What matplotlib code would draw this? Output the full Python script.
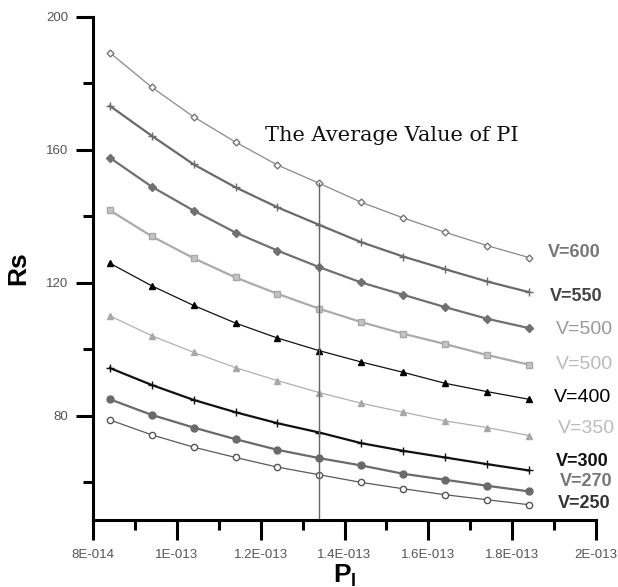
import matplotlib
matplotlib.use("Agg")
import matplotlib.pyplot as plt
from matplotlib.ticker import MultipleLocator, FuncFormatter

# power levels (x) shared by all curves
pl = [8.4e-14, 9.4e-14, 1.04e-13, 1.14e-13, 1.24e-13, 1.34e-13,
      1.44e-13, 1.54e-13, 1.64e-13, 1.74e-13, 1.84e-13]

rs_600 = [189.2, 178.8, 169.9, 162.3, 155.4, 149.9, 144.2, 139.5, 135.2, 131.2, 127.6]
rs_550 = [173.2, 164.2, 155.6, 148.7, 142.7, 137.4, 132.2, 127.9, 124.1, 120.4, 117.2]
rs_500a = [157.6, 148.9, 141.7, 135.1, 129.7, 124.7, 120.1, 116.4, 112.7, 109.2, 106.4]
rs_500b = [141.8, 134.0, 127.4, 121.6, 116.7, 112.2, 108.2, 104.7, 101.6, 98.3, 95.4]
rs_400 = [125.9, 119.1, 113.2, 107.9, 103.4, 99.6, 96.2, 93.1, 89.8, 87.3, 85.0]
rs_350 = [110.1, 104.1, 99.1, 94.5, 90.6, 87.0, 83.8, 81.1, 78.5, 76.5, 74.1]
rs_300 = [94.4, 89.3, 84.8, 81.1, 77.8, 75.0, 71.8, 69.5, 67.5, 65.5, 63.6]
rs_270 = [85.0, 80.3, 76.5, 73.0, 69.8, 67.3, 65.1, 62.6, 60.8, 59.0, 57.3]
rs_250 = [78.8, 74.3, 70.6, 67.5, 64.6, 62.3, 60.0, 58.1, 56.3, 54.8, 53.3]

labels = ["V=600", "V=550", "V=500", "V=500", "V=400", "V=350", "V=300", "V=270", "V=250"]
label_y = [129.2, 115.9, 105.9, 95.3, 85.6, 76.3, 66.3, 60.3, 53.8]
avg_pl = 1.34e-13

fig = plt.figure(figsize=(6.18, 5.87), dpi=100)
ax = fig.add_axes([0.1505, 0.1141, 0.8139, 0.8575])

# (data, line colour, lw, marker, face, edge, ms)
styles = [
    (rs_600, "#8a8a8a", 0.9, "D", "white", "#777777", 3.5),
    (rs_550, "#6a6a6a", 1.6, "+", "#6a6a6a", "#6a6a6a", 6),
    (rs_500a, "#707070", 1.6, "D", "#707070", "#707070", 4),
    (rs_500b, "#ababab", 1.6, "s", "#c4c4c4", "#a8a8a8", 4.5),
    (rs_400, "#111111", 0.9, "^", "#000000", "#000000", 4.5),
    (rs_350, "#b0b0b0", 0.9, "^", "#a8a8a8", "#a8a8a8", 4.5),
    (rs_300, "#111111", 1.6, "+", "#111111", "#111111", 6),
    (rs_270, "#6a6a6a", 1.6, "o", "#6a6a6a", "#6a6a6a", 5),
    (rs_250, "#5a5a5a", 0.9, "o", "white", "#555555", 4.5),
]
for data, col, lw, mk, fc, ec, ms in styles:
    ax.plot(pl, data, color=col, lw=lw, marker=mk, mfc=fc, mec=ec, ms=ms,
            mew=1.0)

label_style = [("#777777", "bold", 13), ("#444444", "bold", 13),
               ("#999999", "normal", 14), ("#bbbbbb", "normal", 14),
               ("#000000", "normal", 14), ("#bbbbbb", "normal", 14),
               ("#111111", "bold", 13), ("#777777", "bold", 13),
               ("#333333", "bold", 13)]
label_x = [1.885e-13, 1.89e-13, 1.905e-13, 1.905e-13, 1.90e-13,
           1.91e-13, 1.905e-13, 1.915e-13, 1.91e-13]
for txt, x, y, (c, w, s) in zip(labels, label_x, label_y, label_style):
    ax.text(x, y, txt, color=c, fontweight=w, fontsize=s, va="center",
            ha="left", family="Liberation Sans", clip_on=False)

# average value marker line
ax.plot([avg_pl, avg_pl], [rs_600[5], 48.7], color="#666666", lw=1.0)
ax.text(1.21e-13, 164.2, "The Average Value of PI", family="DejaVu Serif",
        fontsize=15, va="center", ha="left", color="#111111")

ax.set_xlim(8e-14, 2e-13)
ax.set_ylim(48.7, 200)

for s in ["top", "right"]:
    ax.spines[s].set_visible(False)
for s in ["left", "bottom"]:
    ax.spines[s].set_linewidth(2.2)

ax.xaxis.set_major_locator(MultipleLocator(2e-14))
ax.xaxis.set_minor_locator(MultipleLocator(1e-14))
ax.yaxis.set_major_locator(MultipleLocator(40))
ax.yaxis.set_minor_locator(MultipleLocator(20))
ax.set_yticks([80, 120, 160, 200])


def xfmt(v, pos):
    m, e = f"{v:.1E}".split("E")
    m = m.rstrip("0").rstrip(".")
    return f"{m}E-{abs(int(e)):03d}"


ax.xaxis.set_major_formatter(FuncFormatter(xfmt))
ax.tick_params(which="major", direction="out", length=12.5, width=2.2,
               labelsize=9.5, labelcolor="#555555", pad=5.5)
ax.tick_params(which="minor", direction="out", length=7, width=2.2)
ax.tick_params(axis="x", which="major", length=14.5, pad=6.5)
for lab in ax.get_xticklabels() + ax.get_yticklabels():
    lab.set_family("Liberation Sans")

ax.set_ylabel("Rs", fontsize=19, fontweight="bold", family="Liberation Sans")
ax.set_xlabel(r"P$_\mathregular{l}$", fontsize=19, fontweight="bold",
              family="Liberation Sans")
ax.yaxis.set_label_coords(-0.125, 0.5)
ax.xaxis.set_label_coords(0.5, -0.085)

fig.savefig("out.png", dpi=100)
